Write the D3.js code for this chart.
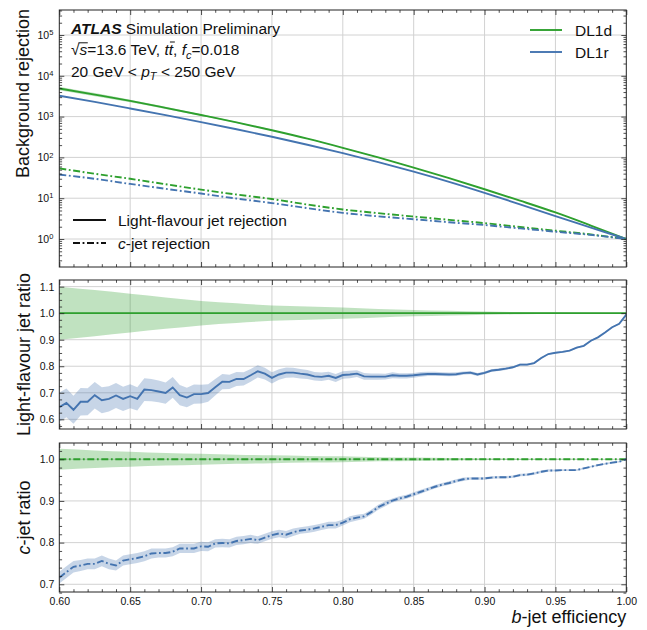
<!DOCTYPE html>
<html><head><meta charset="utf-8">
<script src="https://cdn.jsdelivr.net/npm/d3@7"></script>
<style>body{margin:0;background:#fff}svg{display:block}</style>
</head><body><svg id="c" width="647" height="630"></svg>
<script>
// ---------- data ----------
const eff = [0.600,0.605,0.610,0.615,0.620,0.625,0.630,0.635,0.640,0.645,
0.650,0.655,0.660,0.665,0.670,0.675,0.680,0.685,0.690,0.695,
0.700,0.705,0.710,0.715,0.720,0.725,0.730,0.735,0.740,0.745,
0.750,0.755,0.760,0.765,0.770,0.775,0.780,0.785,0.790,0.795,
0.800,0.805,0.810,0.815,0.820,0.825,0.830,0.835,0.840,0.845,
0.850,0.855,0.860,0.865,0.870,0.875,0.880,0.885,0.890,0.895,
0.900,0.905,0.910,0.915,0.920,0.925,0.930,0.935,0.940,0.945,
0.950,0.955,0.960,0.965,0.970,0.975,0.980,0.985,0.990,0.995,1.000];

const lightRatioDL1r = [0.646,0.662,0.636,0.666,0.666,0.691,0.672,0.677,0.690,0.677,
0.687,0.677,0.712,0.710,0.705,0.699,0.720,0.691,0.682,0.695,
0.695,0.699,0.721,0.742,0.741,0.752,0.752,0.766,0.781,0.772,
0.756,0.769,0.776,0.776,0.772,0.769,0.762,0.760,0.764,0.756,
0.767,0.769,0.772,0.762,0.761,0.761,0.761,0.766,0.764,0.764,
0.766,0.769,0.771,0.771,0.770,0.769,0.770,0.774,0.776,0.769,
0.775,0.784,0.787,0.791,0.796,0.806,0.806,0.812,0.831,0.846,
0.851,0.854,0.859,0.870,0.877,0.896,0.909,0.927,0.947,0.960,0.995];

const lightRatioErrDL1r = [0.055,0.054,0.053,0.052,0.051,0.050,0.049,0.048,0.047,0.046,
0.045,0.044,0.043,0.042,0.041,0.040,0.039,0.038,0.037,0.036,
0.035,0.033,0.031,0.029,0.027,0.026,0.025,0.024,0.023,0.022,
0.021,0.020,0.019,0.018,0.018,0.017,0.016,0.016,0.015,0.015,
0.014,0.014,0.013,0.013,0.012,0.012,0.011,0.011,0.010,0.010,
0.009,0.009,0.008,0.008,0.007,0.007,0.007,0.006,0.006,0.006,
0.005,0.005,0.005,0.005,0.004,0.004,0.004,0.004,0.004,0.003,
0.003,0.003,0.003,0.003,0.003,0.003,0.003,0.003,0.003,0.003,0.002];

const cRatioDL1r = [0.716,0.729,0.742,0.745,0.749,0.749,0.756,0.749,0.745,0.757,
0.760,0.763,0.767,0.774,0.775,0.775,0.778,0.786,0.786,0.786,
0.791,0.790,0.798,0.799,0.798,0.804,0.806,0.809,0.806,0.812,
0.818,0.822,0.819,0.825,0.829,0.831,0.834,0.838,0.842,0.842,
0.848,0.856,0.860,0.863,0.873,0.885,0.893,0.901,0.906,0.910,
0.916,0.922,0.928,0.934,0.939,0.943,0.948,0.952,0.954,0.954,
0.954,0.956,0.957,0.957,0.958,0.962,0.963,0.966,0.970,0.973,
0.973,0.974,0.974,0.974,0.978,0.982,0.986,0.989,0.992,0.994,1.000];

const cRatioErrDL1r = [0.014,0.014,0.014,0.013,0.013,0.013,0.013,0.013,0.012,0.012,
0.012,0.012,0.012,0.012,0.011,0.011,0.011,0.011,0.011,0.011,
0.011,0.011,0.010,0.010,0.010,0.010,0.010,0.010,0.009,0.009,
0.009,0.009,0.009,0.009,0.008,0.008,0.008,0.008,0.008,0.008,
0.007,0.007,0.007,0.006,0.006,0.006,0.006,0.005,0.005,0.005,
0.005,0.005,0.004,0.004,0.004,0.004,0.004,0.004,0.003,0.003,
0.003,0.003,0.003,0.003,0.003,0.003,0.003,0.003,0.003,0.003,
0.002,0.002,0.002,0.002,0.002,0.002,0.002,0.002,0.002,0.002,0.001];

const effCoarse = [0.600,0.625,0.650,0.675,0.700,0.725,0.750,0.775,0.800,0.825,0.850,0.875,0.900,0.925,0.950,0.975,1.000];
const lightRejDL1d = [4900,3467,2427,1641,1096,724,462,288,172,100,56.2,30.9,16.6,8.71,4.47,2.14,1.0];
const lightRejDL1r = [3236,2291,1585,1084,733,490,320,204,127,76.7,44.7,25.1,13.5,7.08,3.63,1.91,1.0];
const cRejDL1d = [53.7,39.8,29.9,22.0,16.2,12.3,9.55,7.0,5.3,4.3,3.55,2.95,2.45,1.97,1.6,1.29,1.0];
const cRejDL1r = [38.0,29.9,22.4,17.0,13.0,9.8,7.6,5.7,4.37,3.6,3.05,2.57,2.2,1.82,1.51,1.26,1.0];
const lightRatioDL1d = [1,1,1,1,1,1,1,1,1,1,1,1,1,1,1,1,1];
const cRatioDL1d = [1,1,1,1,1,1,1,1,1,1,1,1,1,1,1,1,1];
const lightErrDL1d = [0.100,0.087,0.073,0.059,0.046,0.037,0.029,0.025,0.021,0.016,0.012,0.009,0.006,0.004,0.003,0.0015,0];
const cErrDL1d = [0.025,0.021,0.018,0.015,0.013,0.011,0.0095,0.008,0.007,0.005,0.004,0.003,0.002,0.0015,0.001,0.0005,0];

const xTicks = [0.60,0.65,0.70,0.75,0.80,0.85,0.90,0.95,1.00];
const xTickLabels = ["0.60","0.65","0.70","0.75","0.80","0.85","0.90","0.95","1.00"];
const rejTicks = [1,10,100,1000,10000,100000];
const rejTickExp = ["0","1","2","3","4","5"];
const lightRatioTicks = [0.6,0.7,0.8,0.9,1.0,1.1];
const lightRatioLabels = ["0.6","0.7","0.8","0.9","1.0","1.1"];
const cRatioTicks = [0.7,0.8,0.9,1.0];
const cRatioLabels = ["0.7","0.8","0.9","1.0"];
const taggers = ["DL1d","DL1r"];

// ---------- layout ----------
const FONT = "'Liberation Sans', Arial, Helvetica, sans-serif";
const green = "#2ea02e", blue = "#4474b0", axisCol = "#222", gridCol = "#d2d2d2";
const X0 = 59.3, X1 = 626.3;
const P = [{t:10,b:267},{t:280,b:429},{t:443,b:592}];
const x = d3.scaleLinear().domain([0.6,1.0]).range([X0,X1]);
const y1 = d3.scaleLog().domain([0.206,4.1e5]).range([P[0].b,P[0].t]);
const y2 = d3.scaleLinear().domain([0.5635,1.125]).range([P[1].b,P[1].t]);
const y3 = d3.scaleLinear().domain([0.6815,1.039]).range([P[2].b,P[2].t]);
const DASHDOT = "7,2.6,1.8,2.6";
const LW = 1.9;

const svg = d3.select("#c").attr("font-family", FONT);
svg.append("rect").attr("width",647).attr("height",630).attr("fill","#fff");

const xMinor = d3.range(0.60, 1.0001, 0.01).filter(v => Math.abs(Math.round(v*20) - v*20) > 1e-6);

function clipG(id, p){
  svg.append("clipPath").attr("id",id).append("rect")
    .attr("x",X0).attr("y",p.t).attr("width",X1-X0).attr("height",p.b-p.t);
  return svg.append("g").attr("clip-path",`url(#${id})`);
}
function grid(g, yScale, yVals, p){
  g.selectAll(null).data(xTicks.slice(1,-1)).join("line")
    .attr("x1",d=>x(d)).attr("x2",d=>x(d)).attr("y1",p.t).attr("y2",p.b)
    .attr("stroke",gridCol).attr("stroke-width",1);
  g.selectAll(null).data(yVals).join("line")
    .attr("x1",X0).attr("x2",X1).attr("y1",d=>yScale(d)).attr("y2",d=>yScale(d))
    .attr("stroke",gridCol).attr("stroke-width",1);
}
function mkAxis(axis, tr, vals, size, fmt, pad){
  const a = svg.append("g").attr("transform",tr)
    .call(axis.tickValues(vals).tickSize(size).tickPadding(pad||5).tickFormat(fmt || (()=>"")));
  a.select(".domain").remove();
  a.selectAll(".tick line").attr("stroke",axisCol).attr("stroke-width",0.8);
  a.attr("font-family",FONT).attr("font-size",10.5);
  a.selectAll("text").attr("fill","#111");
  return a;
}
function axes(yScale, p, yMajor, yMinor, xFmt, yFmt, yPad){
  mkAxis(d3.axisBottom(x), `translate(0,${p.b})`, xTicks, -5, xFmt, 5.5);
  mkAxis(d3.axisBottom(x), `translate(0,${p.b})`, xMinor, -2.8);
  mkAxis(d3.axisTop(x), `translate(0,${p.t})`, xTicks, -5);
  mkAxis(d3.axisTop(x), `translate(0,${p.t})`, xMinor, -2.8);
  const yl = mkAxis(d3.axisLeft(yScale), `translate(${X0},0)`, yMajor, -5, yFmt, yPad);
  mkAxis(d3.axisLeft(yScale), `translate(${X0},0)`, yMinor, -2.8);
  mkAxis(d3.axisRight(yScale), `translate(${X1},0)`, yMajor, -5);
  mkAxis(d3.axisRight(yScale), `translate(${X1},0)`, yMinor, -2.8);
  svg.append("rect").attr("x",X0).attr("y",p.t).attr("width",X1-X0).attr("height",p.b-p.t)
    .attr("fill","none").attr("stroke",axisCol).attr("stroke-width",1);
  return yl;
}

// ---------- panel 1 ----------
{
  const p = P[0];
  const g = clipG("c1", p);
  grid(g, y1, rejTicks, p);
  const band = d3.area().curve(d3.curveMonotoneX)
    .x((d,i)=>x(effCoarse[i])).y0((d,i)=>y1(d*(1-lightErrDL1d[i]))).y1((d,i)=>y1(d*(1+lightErrDL1d[i])));
  g.append("path").attr("d",band(lightRejDL1d)).attr("fill",green).attr("opacity",0.3);
  const line = d3.line().curve(d3.curveMonotoneX).x((d,i)=>x(effCoarse[i])).y(d=>y1(d));
  g.append("path").attr("d",line(lightRejDL1d)).attr("fill","none").attr("stroke",green).attr("stroke-width",LW);
  g.append("path").attr("d",line(lightRejDL1r)).attr("fill","none").attr("stroke",blue).attr("stroke-width",LW);
  g.append("path").attr("d",line(cRejDL1d)).attr("fill","none").attr("stroke",green).attr("stroke-width",LW).attr("stroke-dasharray",DASHDOT);
  g.append("path").attr("d",line(cRejDL1r)).attr("fill","none").attr("stroke",blue).attr("stroke-width",LW).attr("stroke-dasharray",DASHDOT);

  const logMinor = [];
  for (let e=-1;e<=5;e++) for (let m=2;m<=9;m++){ const v=m*Math.pow(10,e); if (v>0.206 && v<4.1e5) logMinor.push(v); }
  const yl = axes(y1, p, rejTicks, logMinor, null, ()=>"10", 6);
  yl.selectAll(".tick text").each(function(d,i){
    d3.select(this).append("tspan").attr("dy","-0.48em").attr("font-size","7.5px").text(rejTickExp[i]);
  });

  // annotations
  const t1 = svg.append("text").attr("x",71).attr("y",33.5).attr("font-size",15.5).attr("fill","#111");
  t1.append("tspan").attr("font-weight","bold").attr("font-style","italic").text("ATLAS");
  t1.append("tspan").text(" Simulation Preliminary");

  const t2 = svg.append("text").attr("x",71).attr("y",55).attr("font-size",15.5).attr("fill","#111");
  t2.append("tspan").text("\u221A");
  t2.append("tspan").attr("font-style","italic").text("s");
  t2.append("tspan").text("=13.6 TeV, ");
  t2.append("tspan").attr("font-style","italic").text("t");
  t2.append("tspan").attr("font-style","italic").text("t");
  t2.append("tspan").text(", ");
  t2.append("tspan").attr("font-style","italic").text("f");
  t2.append("tspan").attr("font-style","italic").attr("font-size",11).attr("dy",3.5).text("c");
  t2.append("tspan").attr("dy",-3.5).text("=0.018");
  const n2 = t2.node();
  const eR = n2.getExtentOfChar(0), eS = n2.getExtentOfChar(1), eT = n2.getExtentOfChar(14);
  svg.append("line").attr("x1",eR.x+eR.width-1).attr("x2",eS.x+eS.width+0.5).attr("y1",55-12.2).attr("y2",55-12.2)
    .attr("stroke","#111").attr("stroke-width",1);
  svg.append("line").attr("x1",eT.x+1.2).attr("x2",eT.x+eT.width+1.8).attr("y1",55-13).attr("y2",55-13)
    .attr("stroke","#111").attr("stroke-width",1);

  const t3 = svg.append("text").attr("x",71).attr("y",76.5).attr("font-size",15.5).attr("fill","#111");
  t3.append("tspan").text("20 GeV < ");
  t3.append("tspan").attr("font-style","italic").text("p");
  t3.append("tspan").attr("font-style","italic").attr("font-size",11).attr("dy",3.5).text("T");
  t3.append("tspan").attr("dy",-3.5).text(" < 250 GeV");

  // tagger legend
  const cols = [green, blue];
  taggers.forEach((t,i)=>{
    const yy = 30 + i*22;
    svg.append("line").attr("x1",530).attr("x2",562).attr("y1",yy).attr("y2",yy).attr("stroke",cols[i]).attr("stroke-width",LW);
    svg.append("text").attr("x",575).attr("y",yy+5.5).attr("font-size",15.5).attr("fill","#111").text(t);
  });
  // style legend
  svg.append("line").attr("x1",73).attr("x2",106).attr("y1",220).attr("y2",220).attr("stroke","#111").attr("stroke-width",LW);
  svg.append("text").attr("x",118).attr("y",225.5).attr("font-size",15.5).attr("fill","#111").text("Light-flavour jet rejection");
  svg.append("line").attr("x1",73).attr("x2",106).attr("y1",243).attr("y2",243).attr("stroke","#111").attr("stroke-width",LW).attr("stroke-dasharray",DASHDOT);
  const tc = svg.append("text").attr("x",118).attr("y",248.5).attr("font-size",15.5).attr("fill","#111");
  tc.append("tspan").attr("font-style","italic").text("c");
  tc.append("tspan").text("-jet rejection");

  svg.append("text").attr("transform","translate(29,9) rotate(-90)").attr("text-anchor","end")
    .attr("font-size",18).attr("fill","#111").text("Background rejection");
}

// ---------- panel 2 ----------
{
  const p = P[1];
  const g = clipG("c2", p);
  grid(g, y2, lightRatioTicks, p);
  g.append("path").attr("d", d3.area().curve(d3.curveMonotoneX).x((d,i)=>x(effCoarse[i]))
      .y0((d,i)=>y2(d-lightErrDL1d[i])).y1((d,i)=>y2(d+lightErrDL1d[i]))(lightRatioDL1d))
    .attr("fill",green).attr("opacity",0.3);
  g.append("path").attr("d", d3.area().x((d,i)=>x(eff[i]))
      .y0((d,i)=>y2(d-lightRatioErrDL1r[i])).y1((d,i)=>y2(d+lightRatioErrDL1r[i]))(lightRatioDL1r))
    .attr("fill",blue).attr("opacity",0.3);
  g.append("path").attr("d", d3.line().x((d,i)=>x(effCoarse[i])).y(d=>y2(d))(lightRatioDL1d))
    .attr("fill","none").attr("stroke",green).attr("stroke-width",LW);
  g.append("path").attr("d", d3.line().x((d,i)=>x(eff[i])).y(d=>y2(d))(lightRatioDL1r))
    .attr("fill","none").attr("stroke",blue).attr("stroke-width",LW);
  const minor = d3.range(0.575, 1.125, 0.025).filter(v => Math.abs(Math.round(v*10)-v*10) > 1e-6);
  axes(y2, p, lightRatioTicks, minor, null, (d,i)=>lightRatioLabels[i], 5);
  svg.append("text").attr("transform",`translate(29.5,${(p.t+p.b)/2}) rotate(-90)`).attr("text-anchor","middle")
    .attr("font-size",18).attr("fill","#111").text("Light-flavour jet ratio");
}

// ---------- panel 3 ----------
{
  const p = P[2];
  const g = clipG("c3", p);
  grid(g, y3, cRatioTicks, p);
  g.append("path").attr("d", d3.area().curve(d3.curveMonotoneX).x((d,i)=>x(effCoarse[i]))
      .y0((d,i)=>y3(d-cErrDL1d[i])).y1((d,i)=>y3(d+cErrDL1d[i]))(cRatioDL1d))
    .attr("fill",green).attr("opacity",0.3);
  g.append("path").attr("d", d3.area().x((d,i)=>x(eff[i]))
      .y0((d,i)=>y3(d-cRatioErrDL1r[i])).y1((d,i)=>y3(d+cRatioErrDL1r[i]))(cRatioDL1r))
    .attr("fill",blue).attr("opacity",0.3);
  g.append("path").attr("d", d3.line().x((d,i)=>x(effCoarse[i])).y(d=>y3(d))(cRatioDL1d))
    .attr("fill","none").attr("stroke",green).attr("stroke-width",LW).attr("stroke-dasharray",DASHDOT);
  g.append("path").attr("d", d3.line().x((d,i)=>x(eff[i])).y(d=>y3(d))(cRatioDL1r))
    .attr("fill","none").attr("stroke",blue).attr("stroke-width",LW).attr("stroke-dasharray",DASHDOT);
  const minor = d3.range(0.68, 1.04, 0.02).filter(v => Math.abs(Math.round(v*10)-v*10) > 1e-6);
  axes(y3, p, cRatioTicks, minor, (d,i)=>xTickLabels[i], (d,i)=>cRatioLabels[i], 5);
  const t = svg.append("text").attr("transform",`translate(29.5,${(p.t+p.b)/2}) rotate(-90)`).attr("text-anchor","middle")
    .attr("font-size",18).attr("fill","#111");
  t.append("tspan").attr("font-style","italic").text("c");
  t.append("tspan").text("-jet ratio");

  const xl = svg.append("text").attr("x",X1).attr("y",622.5).attr("text-anchor","end").attr("font-size",18).attr("fill","#111");
  xl.append("tspan").attr("font-style","italic").text("b");
  xl.append("tspan").text("-jet efficiency");
}
</script></body></html>
